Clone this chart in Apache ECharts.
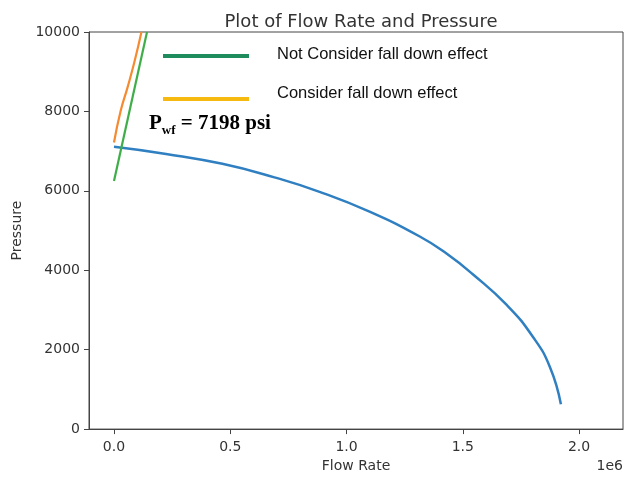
<!DOCTYPE html>
<html>
<head>
<meta charset="utf-8">
<script src="https://cdn.jsdelivr.net/npm/echarts@6/dist/echarts.min.js"></script>
<style>html,body{margin:0;padding:0;background:#fff}#c{width:626px;height:478px}</style>
</head>
<body>
<div id="c"></div>
<script>
// Flow rate (q) vs pressure (p)
const iprCurve = [
  [0, 7110], [0.224e6, 6930], [0.466e6, 6680], [0.69e6, 6340], [0.884e6, 5975],
  [1.099e6, 5475], [1.315e6, 4850], [1.43e6, 4420], [1.543e6, 3900], [1.69e6, 3120],
  [1.802e6, 2320], [1.875e6, 1560], [1.922e6, 625]
];
const fallDownCurve = [
  [0, 7217], [0.028e6, 8000], [0.058e6, 8600], [0.088e6, 9250], [0.118e6, 10000]
];
const noFallDownCurve = [[0, 6250], [0.142e6, 10000]];
const xTicks = [0, 0.5e6, 1.0e6, 1.5e6, 2.0e6];
const yTicks = [0, 2000, 4000, 6000, 8000, 10000];
const legendLabels = ['Not Consider fall down effect', 'Consider fall down effect'];

const chart = echarts.init(document.getElementById('c'), null, {renderer: 'canvas'});
const axisFont = 'DejaVu Sans';
chart.setOption({
  animation: false,
  backgroundColor: '#fff',
  title: {
    text: 'Plot of Flow Rate and Pressure',
    left: 356, top: 8, textAlign: 'center',
    textStyle: {fontFamily: axisFont, fontSize: 18, fontWeight: 'normal', color: '#333'}
  },
  grid: {left: 89, right: 3, top: 32, bottom: 46, show: true, borderColor: '#444', borderWidth: 1},
  xAxis: {
    type: 'value', min: -0.1075e6, max: 2.189e6,
    name: 'Flow Rate', nameLocation: 'middle', nameGap: 28,
    nameTextStyle: {fontFamily: axisFont, fontSize: 14, color: '#333'},
    axisLine: {show: true, onZero: false, lineStyle: {color: '#444'}},
    axisTick: {show: true, length: 5, lineStyle: {color: '#444'}, customValues: xTicks},
    axisLabel: {customValues: xTicks, margin: 11, fontFamily: axisFont, fontSize: 14, color: '#333',
      formatter: v => (v / 1e6).toFixed(1)},
    splitLine: {show: false}
  },
  yAxis: {
    type: 'value', min: 0, max: 10000, interval: 2000,
    name: 'Pressure', nameLocation: 'middle', nameGap: 64,
    nameTextStyle: {fontFamily: axisFont, fontSize: 14, color: '#333'},
    axisLine: {show: true, onZero: false, lineStyle: {color: '#444'}},
    axisTick: {show: true, length: 5, lineStyle: {color: '#444'}, customValues: yTicks},
    axisLabel: {customValues: yTicks, margin: 9, fontFamily: axisFont, fontSize: 14, color: '#333',
      formatter: v => String(v)},
    splitLine: {show: false}
  },
  series: [
    {type: 'line', data: iprCurve, smooth: 0.5, showSymbol: false, lineStyle: {color: '#2f7fc1', width: 2.5}, clip: true},
    {type: 'line', data: fallDownCurve, smooth: 0.5, showSymbol: false, lineStyle: {color: '#f58a30', width: 2.2}, clip: true},
    {type: 'line', data: noFallDownCurve, showSymbol: false, lineStyle: {color: '#3fae49', width: 2.2}, clip: true}
  ],
  graphic: [
    {type: 'line', shape: {x1: 163, y1: 56, x2: 249, y2: 56}, style: {stroke: '#1e8c5c', lineWidth: 4}},
    {type: 'line', shape: {x1: 163, y1: 99, x2: 249, y2: 99}, style: {stroke: '#f5b910', lineWidth: 4}},
    {type: 'text', left: 277, top: 46, style: {text: legendLabels[0], font: '16.5px "Liberation Sans"', fill: '#111'}},
    {type: 'text', left: 277, top: 85, style: {text: legendLabels[1], font: '16.5px "Liberation Sans"', fill: '#111'}},
    {type: 'text', x: 149, y: 134, style: {
      text: '{a|P}{b|wf}{a| = 7198 psi}', textVerticalAlign: 'bottom',
      rich: {
        a: {fontFamily: 'Liberation Serif', fontWeight: 'bold', fontSize: 21, fill: '#000', color: '#000'},
        b: {fontFamily: 'Liberation Serif', fontWeight: 'bold', fontSize: 13, color: '#000', verticalAlign: 'bottom', padding: [0, 0, -3, 0]}
      }
    }},
    {type: 'text', right: 3, top: 459, style: {text: '1e6', font: '14px "DejaVu Sans"', fill: '#333'}}
  ]
});
</script>
</body>
</html>
